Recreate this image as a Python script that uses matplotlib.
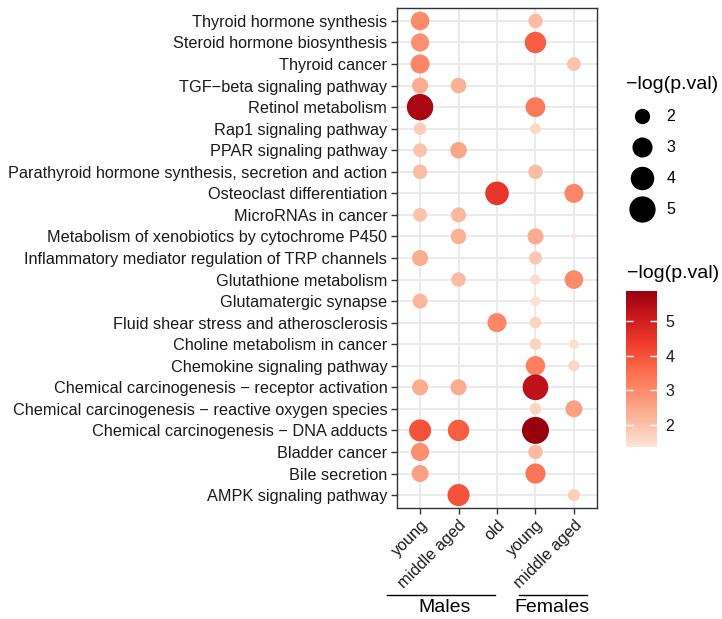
import numpy as np
import matplotlib
matplotlib.use("Agg")
import matplotlib.pyplot as plt
from matplotlib.colors import LinearSegmentedColormap, Normalize
from matplotlib.lines import Line2D

plt.rcParams['font.family'] = ['Liberation Sans', 'DejaVu Sans']

# pathways, top to bottom as in the picture
pathways = [
    "Thyroid hormone synthesis",
    "Steroid hormone biosynthesis",
    "Thyroid cancer",
    "TGF\u2212beta signaling pathway",
    "Retinol metabolism",
    "Rap1 signaling pathway",
    "PPAR signaling pathway",
    "Parathyroid hormone synthesis, secretion and action",
    "Osteoclast differentiation",
    "MicroRNAs in cancer",
    "Metabolism of xenobiotics by cytochrome P450",
    "Inflammatory mediator regulation of TRP channels",
    "Glutathione metabolism",
    "Glutamatergic synapse",
    "Fluid shear stress and atherosclerosis",
    "Choline metabolism in cancer",
    "Chemokine signaling pathway",
    "Chemical carcinogenesis \u2212 receptor activation",
    "Chemical carcinogenesis \u2212 reactive oxygen species",
    "Chemical carcinogenesis \u2212 DNA adducts",
    "Bladder cancer",
    "Bile secretion",
    "AMPK signaling pathway",
]
groups = ["young", "middle aged", "old", "young", "middle aged"]

N = None
# -log(p.val) per group, same order as pathways (None = not significant)
males_young    = [3.0, 2.9, 3.1, 2.4, 5.6, 1.8, 2.0, 2.1, N, 2.0, N, 2.4, N, 2.2, N, N, N, 2.4, N, 4.0, 2.9, 2.6, N]
males_middle   = [N, N, N, 2.3, N, N, 2.5, N, N, 2.2, 2.3, N, 2.1, N, N, N, N, 2.4, N, 3.8, N, N, 4.0]
males_old      = [N, N, N, N, N, N, N, N, 4.5, N, N, N, N, N, 3.1, N, N, N, N, N, N, N, N]
females_young  = [2.1, 3.8, N, N, 3.3, 1.6, N, 2.1, N, N, 2.4, 1.9, 1.55, 1.5, 1.7, 1.7, 3.2, 5.3, 1.7, 5.86, 2.1, 3.4, N]
females_middle = [N, N, 2.0, N, N, N, N, N, 3.1, N, 1.37, N, 3.0, N, N, 1.5, 1.65, N, 2.6, N, N, N, 1.75]

columns = [males_young, males_middle, males_old, females_young, females_middle]

xs, ys, vals = [], [], []
for ci, col in enumerate(columns):
    for ri, v in enumerate(col):
        if v is not None:
            xs.append(ci + 1)
            ys.append(len(pathways) - ri)
            vals.append(v)
xs = np.array(xs); ys = np.array(ys); vals = np.array(vals)

vmin, vmax = vals.min(), vals.max()
reds = LinearSegmentedColormap.from_list(
    "reds7", ["#FEE5D9", "#FCBBA1", "#FC9272", "#FB6A4A", "#EF3B2C", "#CB181D", "#99000D"])
norm = Normalize(vmin, vmax)

def diam_pt(v):
    # area scale like ggplot: diameter in px, converted to points (dpi 100)
    t = np.clip((np.asarray(v, float) - vmin) / (vmax - vmin), 0, 1)
    return (6 + 21 * np.sqrt(t)) * 0.72

W, H = 722, 619
fig = plt.figure(figsize=(W / 100, H / 100), dpi=100)
ax = fig.add_axes([397 / W, 1 - 508 / H, 200 / W, 500 / H])

ax.scatter(xs, ys, s=diam_pt(vals) ** 2, c=vals, cmap=reds, norm=norm,
           edgecolors='none', zorder=3)

ax.set_xlim(0.4, 5.6)
ax.set_ylim(0.4, len(pathways) + 0.6)
ax.set_xticks(range(1, 6))
ax.set_xticklabels(groups, rotation=45, ha='right', va='top', rotation_mode='anchor')
ax.set_yticks(range(len(pathways), 0, -1))
ax.set_yticklabels(pathways)
ax.grid(True, color='#EBEBEB', linewidth=1.4, zorder=0)
ax.set_axisbelow(True)
for sp in ax.spines.values():
    sp.set_color('#333333')
    sp.set_linewidth(1.0)
ax.tick_params(colors='#333333', labelcolor='#1a1a1a', labelsize=11.7, length=4, width=1, pad=3)

# size legend
handles = [Line2D([], [], marker='o', linestyle='none', color='black',
                  markersize=diam_pt(b)) for b in [2, 3, 4, 5]]
fig.legend(handles, ['2', '3', '4', '5'], title='\u2212log(p.val)', loc='upper left',
           bbox_to_anchor=(620 / W, 1 - 70 / H), frameon=False, fontsize=11.5,
           title_fontsize=14, labelspacing=1.0, handletextpad=0.5,
           alignment='left', borderaxespad=0)

# colour bar
cax = fig.add_axes([626 / W, 1 - 447 / H, 31 / W, 156 / H])
cb = fig.colorbar(plt.cm.ScalarMappable(norm=norm, cmap=reds), cax=cax)
cb.outline.set_visible(False)
cb.set_ticks([2, 3, 4, 5])
cax.yaxis.set_ticks_position('both')
cax.tick_params(direction='in', length=5, width=1, color='white', labelcolor='#1a1a1a',
                labelsize=11.5, labelright=True, labelleft=False, pad=6)
fig.text(627 / W, 1 - 274 / H, '\u2212log(p.val)', fontsize=14, va='center', ha='left')

# sex group annotations
fig.add_artist(Line2D([387 / W, 495 / W], [1 - 595 / H] * 2, color='black', linewidth=1))
fig.add_artist(Line2D([519 / W, 587 / W], [1 - 595 / H] * 2, color='black', linewidth=1))
fig.text(445 / W, 1 - 607 / H, 'Males', fontsize=14, ha='center', va='center')
fig.text(552 / W, 1 - 607 / H, 'Females', fontsize=14, ha='center', va='center')

fig.savefig('out.png', dpi=100, facecolor='white')
